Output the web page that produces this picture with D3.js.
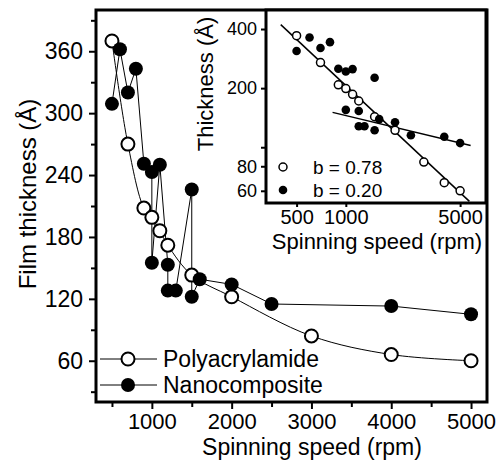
<!DOCTYPE html>
<html>
<head>
<meta charset="utf-8">
<script src="https://cdn.jsdelivr.net/npm/d3@7.9.0/dist/d3.min.js"></script>
<style>
  html, body { margin: 0; padding: 0; background: #fff; }
  svg { display: block; font-family: "Liberation Sans", Arial, sans-serif; }
  .domain { display: none; }
</style>
</head>
<body>
<svg id="chart" width="502" height="462"></svg>
<script>
// Spinning speed (rpm) vs film thickness (Å)
const polySpeed = [500, 700, 900, 1000, 1100, 1200, 1500, 2000, 3000, 4000, 5000];
const polyThick = [370, 270, 208, 199, 186, 172, 143, 122, 84, 66, 60];

// nanocomposite, in the order the points are joined
const nanoSpeed = [500, 600, 700, 800, 900, 1000, 1000, 1100, 1200, 1200, 1300, 1500, 1500, 1600, 2000, 2500, 4000, 5000];
const nanoThick = [309, 362, 320, 343, 251, 243, 155, 250, 153, 128, 128, 226, 122, 139, 134, 115, 113, 105];

const seriesNames = ['Polyacrylamide', 'Nanocomposite'];

// inset power-law fits: thickness ~ speed^-b
const fitB = [0.78, 0.20];
const fitAt1000 = [206, 145];
const fitRange = [[400, 5700], [830, 5800]];

const xTicks = [1000, 2000, 3000, 4000, 5000];
const xMinor = [500, 1500, 2500, 3500, 4500];
const yTicks = [60, 120, 180, 240, 300, 360];
const yMinor = [30, 90, 150, 210, 270, 330, 390];
const insetXTicks = [500, 1000, 5000];
const insetYTicks = [400, 200, 80, 60];
const insetYMinor = [100];

const poly = polySpeed.map((s, i) => ({ s, t: polyThick[i] }));
const nano = nanoSpeed.map((s, i) => ({ s, t: nanoThick[i] }));

const svg = d3.select('#chart');

// main plot
const m = { left: 96, right: 487, top: 10, bottom: 402 };
const x = d3.scaleLinear().domain([300, 5200]).range([m.left, m.right]);
const y = d3.scaleLinear().domain([20, 400]).range([m.bottom, m.top]);

const xAxis = svg.append('g').attr('transform', `translate(0,${m.bottom})`)
  .call(d3.axisBottom(x).tickValues(xTicks).tickSize(7).tickPadding(4).tickFormat(d3.format('d')));
svg.append('g').attr('transform', `translate(0,${m.bottom})`)
  .call(d3.axisBottom(x).tickValues(xMinor).tickSize(5).tickFormat(''));
const yAxis = svg.append('g').attr('transform', `translate(${m.left},0)`)
  .call(d3.axisLeft(y).tickValues(yTicks).tickSize(7).tickPadding(6));
svg.append('g').attr('transform', `translate(${m.left},0)`)
  .call(d3.axisLeft(y).tickValues(yMinor).tickSize(5).tickFormat(''));

svg.selectAll('.tick line').attr('stroke', '#000').attr('stroke-width', 2.5);
xAxis.selectAll('text').style('font-size', '22px').attr('fill', '#000');
yAxis.selectAll('text').style('font-size', '23px').attr('fill', '#000');

const lineMain = d3.line().x(d => x(d.s)).y(d => y(d.t));

svg.append('path').datum(poly)
  .attr('d', lineMain.curve(d3.curveCatmullRom)).attr('fill', 'none')
  .attr('stroke', '#000').attr('stroke-width', 1);
svg.append('path').datum(nano)
  .attr('d', d3.line().x(d => x(d.s)).y(d => y(d.t))).attr('fill', 'none')
  .attr('stroke', '#000').attr('stroke-width', 1);

svg.append('g').selectAll('circle').data(poly).join('circle')
  .attr('cx', d => x(d.s)).attr('cy', d => y(d.t)).attr('r', 6.5)
  .attr('fill', '#fff').attr('stroke', '#000').attr('stroke-width', 2);
svg.append('g').selectAll('circle').data(nano).join('circle')
  .attr('cx', d => x(d.s)).attr('cy', d => y(d.t)).attr('r', 7)
  .attr('fill', '#000');

svg.append('rect')
  .attr('x', m.left).attr('y', m.top)
  .attr('width', m.right - m.left).attr('height', m.bottom - m.top)
  .attr('fill', 'none').attr('stroke', '#000').attr('stroke-width', 3);

// legend
seriesNames.forEach((name, i) => {
  const ly = 359 + i * 26;
  const g = svg.append('g');
  g.append('line').attr('x1', 100).attr('x2', 157).attr('y1', ly).attr('y2', ly)
    .attr('stroke', '#000').attr('stroke-width', 1);
  g.append('circle').attr('cx', 128).attr('cy', ly).attr('r', i === 0 ? 6.5 : 7)
    .attr('fill', i === 0 ? '#fff' : '#000').attr('stroke', '#000').attr('stroke-width', i === 0 ? 2 : 0);
  g.append('text').attr('x', 163).attr('y', ly).attr('dy', '0.35em')
    .style('font-size', '23px').text(name);
});

svg.append('text').attr('x', 312).attr('y', 455).attr('text-anchor', 'middle')
  .style('font-size', '23px').text('Spinning speed (rpm)');
svg.append('text').attr('transform', 'translate(36,194) rotate(-90)').attr('text-anchor', 'middle')
  .style('font-size', '24px').text('Film thickness (Å)');

// inset
const n = { left: 266, right: 486, top: 10, bottom: 203 };
const xi = d3.scaleLog().domain([325, 7200]).range([n.left, n.right]);
const yi = d3.scaleLog().domain([52, 500]).range([n.bottom, n.top]);

svg.append('rect')
  .attr('x', n.left).attr('y', n.top)
  .attr('width', n.right - n.left).attr('height', n.bottom - n.top)
  .attr('fill', '#fff');

const xiAxis = svg.append('g').attr('transform', `translate(0,${n.bottom})`)
  .call(d3.axisBottom(xi).tickValues(insetXTicks).tickSize(4).tickPadding(3).tickFormat(d3.format('d')));
const yiAxis = svg.append('g').attr('transform', `translate(${n.left},0)`)
  .call(d3.axisLeft(yi).tickValues(insetYTicks).tickSize(5).tickPadding(4).tickFormat(d3.format('d')));
svg.append('g').attr('transform', `translate(${n.left},0)`)
  .call(d3.axisLeft(yi).tickValues(insetYMinor).tickSize(5).tickFormat(''));
svg.selectAll('.tick line').attr('stroke', '#000').attr('stroke-width', 2);
xiAxis.selectAll('text').style('font-size', '20px').attr('fill', '#000');
yiAxis.selectAll('text').style('font-size', '18px').attr('fill', '#000');

fitB.forEach((b, i) => {
  const pts = fitRange[i].map(s => ({ s, t: fitAt1000[i] * Math.pow(s / 1000, -b) }));
  svg.append('path').datum(pts)
    .attr('d', d3.line().x(d => xi(d.s)).y(d => yi(d.t)))
    .attr('stroke', '#000').attr('stroke-width', 1.5).attr('fill', 'none');
});

svg.append('g').selectAll('circle').data(poly).join('circle')
  .attr('cx', d => xi(d.s)).attr('cy', d => yi(d.t)).attr('r', 4)
  .attr('fill', '#fff').attr('stroke', '#000').attr('stroke-width', 1.5);
svg.append('g').selectAll('circle').data(nano).join('circle')
  .attr('cx', d => xi(d.s)).attr('cy', d => yi(d.t)).attr('r', 4.3)
  .attr('fill', '#000');

svg.append('rect')
  .attr('x', n.left).attr('y', n.top)
  .attr('width', n.right - n.left).attr('height', n.bottom - n.top)
  .attr('fill', 'none').attr('stroke', '#000').attr('stroke-width', 3);

fitB.forEach((b, i) => {
  const ly = 167 + i * 23;
  svg.append('circle').attr('cx', 283).attr('cy', ly).attr('r', i === 0 ? 4 : 4.3)
    .attr('fill', i === 0 ? '#fff' : '#000').attr('stroke', '#000').attr('stroke-width', i === 0 ? 1.5 : 0);
  svg.append('text').attr('x', 313).attr('y', ly).attr('dy', '0.35em')
    .style('font-size', '19px').text(`b = ${b.toFixed(2)}`);
});

svg.append('text').attr('x', 377).attr('y', 249).attr('text-anchor', 'middle')
  .style('font-size', '22px').text('Spinning speed (rpm)');
svg.append('text').attr('transform', 'translate(213,84) rotate(-90)').attr('text-anchor', 'middle')
  .style('font-size', '22px').text('Thickness (Å)');
</script>
</body>
</html>
